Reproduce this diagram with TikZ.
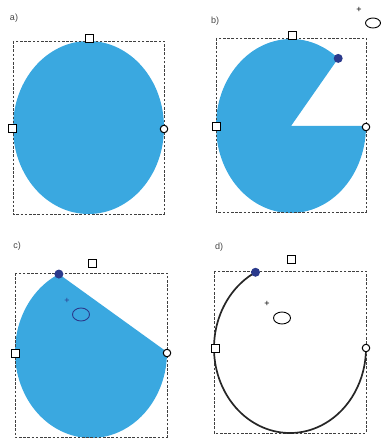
\documentclass[tikz,border=0pt]{standalone}
\usepackage{fontspec}
\setmainfont{Liberation Sans}
\usetikzlibrary{calc}
\definecolor{shapeblue}{HTML}{3AA8E0}
\definecolor{dotnavy}{HTML}{2B3A8C}
\definecolor{labgray}{HTML}{444444}
\begin{document}
\begin{tikzpicture}[x=1pt,y=-1pt,
  bbox/.style={draw=black!75,dashed,dash pattern=on 2.6pt off 1.6pt,line width=0.75pt},
  sqhandle/.style={draw=black,fill=white,line width=1pt,minimum size=8pt,inner sep=0pt,rectangle},
  cirhandle/.style={draw=black,fill=white,line width=1pt,minimum size=7.5pt,inner sep=0pt,circle},
  navydot/.style={fill=dotnavy,circle,minimum size=9pt,inner sep=0pt},
  panellabel/.style={font=\fontsize{9}{10}\selectfont,text=labgray,inner sep=0pt},
  plusmark/.style={font=\fontsize{9}{10}\selectfont,inner sep=0pt},
  rotell/.style={line width=0.9pt}]
\useasboundingbox (0,0) rectangle (381,438);

% ---------- a) ----------
\node[panellabel] (la) at (14,18) {a)};
\coordinate (ca) at (88.5,127.5);
\fill[shapeblue] (ca) ellipse[x radius=75.5,y radius=86.5];
\draw[bbox] (13,41) rectangle (164,214);
\node[sqhandle] (at) at (89,39) {};
\node[sqhandle] (al) at (12,129) {};
\node[cirhandle] (ar) at (164,129) {};

% ---------- b) ----------
\node[panellabel] (lb) at (215,21) {b)};
\coordinate (cb) at (291,126);
\coordinate (bdp) at ($(cb)+(-51:75 and 87)$);
\fill[shapeblue] (cb) -- (bdp) arc[start angle=-51,end angle=-360,x radius=75,y radius=87] -- cycle;
\draw[bbox] (216,38) rectangle (366,212);
\node[sqhandle] (bt) at (292,36) {};
\node[sqhandle] (bl) at (216,127) {};
\node[cirhandle] (br) at (366,127) {};
\node[navydot] (bd) at (bdp) {};
\node[plusmark] (bp) at (359,10) {+};
\draw[rotell] (373,23) ellipse[x radius=7.5,y radius=5];

% ---------- c) ----------
\node[panellabel] (lc) at (17,246) {c)};
\coordinate (cc) at (91,352);
\coordinate (cdp) at ($(cc)+(-115:76 and 86)$);
\fill[shapeblue] (cdp) arc[start angle=-115,end angle=-360,x radius=76,y radius=86] -- cycle;
\draw[bbox] (15,273) rectangle (167,437);
\node[sqhandle] (ct) at (92,263) {};
\node[sqhandle] (cl) at (15,353) {};
\node[cirhandle] (cr) at (167,353) {};
\node[navydot] (cd) at (cdp) {};
\node[plusmark,text=dotnavy] (cp) at (67,301) {+};
\draw[rotell,draw=dotnavy] (81,314.5) ellipse[x radius=8.5,y radius=6.5];

% ---------- d) ----------
\node[panellabel] (ld) at (219,247) {d)};
\coordinate (cdd) at (290,348);
\coordinate (ddp) at ($(cdd)+(-117:76 and 85)$);
\draw[bbox] (214,271) rectangle (366,433);
\draw[line width=1.7pt,black!85] (ddp) arc[start angle=-117,end angle=-360,x radius=76,y radius=85];
\node[sqhandle] (dt) at (291,259) {};
\node[sqhandle] (dl) at (215,348) {};
\node[cirhandle] (dr) at (366,348) {};
\node[navydot] (dd) at (ddp) {};
\node[plusmark] (dp) at (267,304) {+};
\draw[rotell] (282,318) ellipse[x radius=8.5,y radius=6];
\end{tikzpicture}
\end{document}
